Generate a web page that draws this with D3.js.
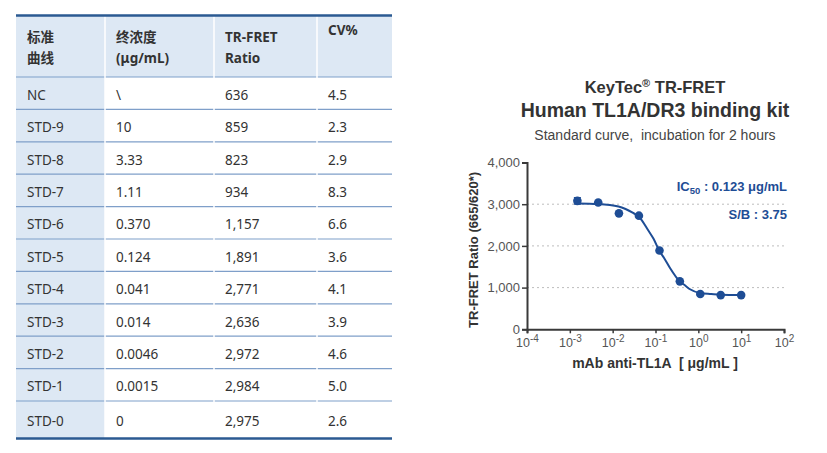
<!DOCTYPE html>
<html>
<head>
<meta charset="utf-8">
<script src="https://cdn.jsdelivr.net/npm/d3@7"></script>
<style>
  html, body { margin: 0; padding: 0; background: #fff; }
  svg { display: block; }
</style>
</head>
<body>
<svg width="827" height="453"></svg>
<script>
// table data
const headerLines = [["标准", "曲线"], ["终浓度", "(μg/mL)"], ["TR-FRET", "Ratio"], ["CV%"]];
const stdLabels = ["NC", "STD-9", "STD-8", "STD-7", "STD-6", "STD-5", "STD-4", "STD-3", "STD-2", "STD-1", "STD-0"];
const concText = ["\\", "10", "3.33", "1.11", "0.370", "0.124", "0.041", "0.014", "0.0046", "0.0015", "0"];
const ratioText = ["636", "859", "823", "934", "1,157", "1,891", "2,771", "2,636", "2,972", "2,984", "2,975"];
const cvText = ["4.5", "2.3", "2.9", "8.3", "6.6", "3.6", "4.1", "3.9", "4.6", "5.0", "2.6"];

// plotted points
const plotConc = [0.0015, 0.0046, 0.014, 0.041, 0.124, 0.370, 1.11, 3.33, 10];
const plotRatio = [3080, 3040, 2780, 2725, 1890, 1150, 845, 820, 820];
const plotErr = [75, 0, 0, 0, 0, 0, 0, 0, 0];

// fitted curve
const fitConc = [0.0015, 0.0046, 0.0137, 0.02, 0.03, 0.041, 0.068, 0.09, 0.121, 0.16, 0.22, 0.36, 0.5, 0.64, 1.1, 2, 3.3, 10];
const fitRatio = [3018, 3004, 2945, 2885, 2790, 2700, 2370, 2170, 1895, 1705, 1465, 1160, 1045, 960, 870, 845, 828, 822];

const xTicks = [1e-4, 1e-3, 1e-2, 1e-1, 1e0, 1e1, 1e2];
const yTicks = [0, 1000, 2000, 3000, 4000];
const gridTicks = [1000, 2000, 3000];

const svg = d3.select("svg");
const blue = "#1e4d95";
const tableFont = "'Noto Sans', 'Noto Sans CJK SC', sans-serif";
const chartFont = "'Liberation Sans', Arial, sans-serif";

// ---------- table ----------
const colX = [16, 105, 214, 317, 392];
const tableTop = 15.5, headerH = 61.5, rowH = 32.4, lastRowH = 37.5;
const rowTops = stdLabels.map((d, i) => tableTop + headerH + i * rowH);
const rowHeights = stdLabels.map((d, i) => i === stdLabels.length - 1 ? lastRowH : rowH);
const tableBottom = rowTops[rowTops.length - 1] + lastRowH;

const table = svg.append("g").attr("class", "table");

// light blue header and first column
table.append("rect")
    .attr("x", colX[0]).attr("y", tableTop)
    .attr("width", colX[4] - colX[0]).attr("height", headerH)
    .attr("fill", "#dde8f4");
table.append("rect")
    .attr("x", colX[0]).attr("y", tableTop)
    .attr("width", colX[1] - colX[0]).attr("height", tableBottom - tableTop)
    .attr("fill", "#dde8f4");

// row lines
table.selectAll("line.row")
    .data(rowTops)
    .enter()
    .append("line")
    .attr("class", "row")
    .attr("x1", colX[0]).attr("x2", colX[4])
    .attr("y1", d => d).attr("y2", d => d)
    .attr("stroke", "#7f9fc9")
    .attr("stroke-width", 1.2);

// white column dividers
table.selectAll("line.col")
    .data(colX.slice(1, 4))
    .enter()
    .append("line")
    .attr("class", "col")
    .attr("x1", d => d).attr("x2", d => d)
    .attr("y1", tableTop).attr("y2", tableBottom)
    .attr("stroke", "#fff")
    .attr("stroke-width", 1.5);

// thick top / bottom rules
table.selectAll("line.rule")
    .data([tableTop, tableBottom])
    .enter()
    .append("line")
    .attr("class", "rule")
    .attr("x1", colX[0]).attr("x2", colX[4])
    .attr("y1", d => d).attr("y2", d => d)
    .attr("stroke", "#2b5a92")
    .attr("stroke-width", 2.5);

// header text
headerLines.forEach((lines, c) => {
    const t = table.append("text")
        .attr("x", colX[c] + 11)
        .attr("font-family", tableFont)
        .attr("font-size", 13.5)
        .attr("font-weight", "bold")
        .attr("fill", "#333");
    lines.forEach((s, k) => {
        t.append("tspan")
            .attr("x", colX[c] + 11)
            .attr("y", lines.length === 1 ? 35 : 42 + k * 21)
            .text(s);
    });
});

// body text
const columns = [stdLabels, concText, ratioText, cvText];
columns.forEach((col, c) => {
    table.selectAll("text.c" + c)
        .data(col)
        .enter()
        .append("text")
        .attr("class", "c" + c)
        .attr("x", colX[c] + 11)
        .attr("y", (d, i) => rowTops[i] + rowHeights[i] / 2 + 6.5)
        .attr("font-family", tableFont)
        .attr("font-size", 13.5)
        .attr("fill", "#333")
        .text(d => d);
});

// ---------- chart ----------
const x = d3.scaleLog().domain([1e-4, 1e2]).range([527, 784]);
const y = d3.scaleLinear().domain([0, 4000]).range([329.3, 162.5]);

const chart = svg.append("g").attr("class", "chart").attr("font-family", chartFont);

// titles
chart.append("text")
    .attr("x", 655).attr("y", 93)
    .attr("text-anchor", "middle")
    .attr("font-size", 16.5).attr("font-weight", "bold").attr("fill", "#333")
    .call(t => {
        t.append("tspan").text("KeyTec");
        t.append("tspan").attr("font-size", 11).attr("dy", -6).text("®");
        t.append("tspan").attr("dy", 6).text(" TR-FRET");
    });
chart.append("text")
    .attr("x", 655).attr("y", 117)
    .attr("text-anchor", "middle")
    .attr("font-size", 19.5).attr("font-weight", "bold").attr("fill", "#333")
    .text("Human TL1A/DR3 binding kit");
chart.append("text")
    .attr("x", 655).attr("y", 140)
    .attr("text-anchor", "middle")
    .attr("font-size", 14).attr("fill", "#444")
    .attr("xml:space", "preserve")
    .text("Standard curve,  incubation for 2 hours");

// grid
chart.append("g")
    .selectAll("line")
    .data(gridTicks)
    .enter()
    .append("line")
    .attr("x1", x.range()[0]).attr("x2", x.range()[1])
    .attr("y1", d => y(d)).attr("y2", d => y(d))
    .attr("stroke", "#bdbdbd")
    .attr("stroke-dasharray", "2,3");

// y axis
const yAxis = chart.append("g")
    .attr("transform", `translate(${x.range()[0]},0)`)
    .call(d3.axisLeft(y).tickValues(yTicks).tickSize(5).tickPadding(2).tickFormat(d3.format(",")));
yAxis.select(".domain").attr("stroke", "#3a3a3a").attr("stroke-width", 2);
yAxis.selectAll(".tick line").attr("stroke", "#3a3a3a").attr("stroke-width", 1.5);
yAxis.selectAll(".tick text")
    .attr("font-family", chartFont).attr("font-size", 13).attr("fill", "#555");

// x axis
const xAxis = chart.append("g")
    .attr("transform", `translate(0,${y(0)})`)
    .call(d3.axisBottom(x).tickValues(xTicks).tickSize(4).tickFormat(""));
xAxis.select(".domain").attr("stroke", "#3a3a3a").attr("stroke-width", 2);
xAxis.selectAll(".tick line").attr("stroke", "#3a3a3a").attr("stroke-width", 1.5);
xAxis.selectAll(".tick")
    .append("text")
    .attr("y", 17.5)
    .attr("text-anchor", "middle")
    .attr("font-family", chartFont).attr("font-size", 12.5).attr("fill", "#555")
    .each(function (d) {
        const t = d3.select(this);
        t.append("tspan").text("10");
        t.append("tspan").attr("font-size", 10).attr("dy", -5).text(Math.round(Math.log10(d)));
    });

// axis titles
chart.append("text")
    .attr("transform", `translate(478,${(y(0) + y(4000)) / 2 + 4}) rotate(-90)`)
    .attr("text-anchor", "middle")
    .attr("font-size", 13).attr("font-weight", "bold").attr("fill", "#333")
    .text("TR-FRET Ratio (665/620*)");
chart.append("text")
    .attr("x", 655).attr("y", 367.5)
    .attr("text-anchor", "middle")
    .attr("font-size", 14).attr("font-weight", "bold").attr("fill", "#333")
    .attr("xml:space", "preserve")
    .text("mAb anti-TL1A  [ μg/mL ]");

// fit curve
const fitData = fitConc.map((c, i) => ({ c: c, r: fitRatio[i] }));
chart.append("path")
    .datum(fitData)
    .attr("fill", "none")
    .attr("stroke", blue)
    .attr("stroke-width", 2)
    .attr("d", d3.line().x(d => x(d.c)).y(d => y(d.r)).curve(d3.curveMonotoneX));

// points + error bars
const pts = plotConc.map((c, i) => ({ c: c, r: plotRatio[i], e: plotErr[i] }));
const errG = chart.append("g").selectAll("g")
    .data(pts.filter(d => d.e > 0))
    .enter()
    .append("g")
    .attr("stroke", blue).attr("stroke-width", 1.5);
errG.append("line")
    .attr("x1", d => x(d.c)).attr("x2", d => x(d.c))
    .attr("y1", d => y(d.r - d.e)).attr("y2", d => y(d.r + d.e));
errG.append("line")
    .attr("x1", d => x(d.c) - 3.5).attr("x2", d => x(d.c) + 3.5)
    .attr("y1", d => y(d.r + d.e)).attr("y2", d => y(d.r + d.e));
errG.append("line")
    .attr("x1", d => x(d.c) - 3.5).attr("x2", d => x(d.c) + 3.5)
    .attr("y1", d => y(d.r - d.e)).attr("y2", d => y(d.r - d.e));

chart.append("g")
    .selectAll("circle")
    .data(pts)
    .enter()
    .append("circle")
    .attr("cx", d => x(d.c))
    .attr("cy", d => y(d.r))
    .attr("r", 4.3)
    .attr("fill", blue);

// annotations
chart.append("text")
    .attr("x", 787).attr("y", 191)
    .attr("text-anchor", "end")
    .attr("font-size", 13).attr("font-weight", "bold").attr("fill", blue)
    .call(t => {
        t.append("tspan").text("IC");
        t.append("tspan").attr("font-size", 9.5).attr("dy", 3).text("50");
        t.append("tspan").attr("dy", -3).text(" : 0.123 μg/mL");
    });
chart.append("text")
    .attr("x", 787).attr("y", 219)
    .attr("text-anchor", "end")
    .attr("font-size", 13).attr("font-weight", "bold").attr("fill", blue)
    .text("S/B : 3.75");
</script>
</body>
</html>
